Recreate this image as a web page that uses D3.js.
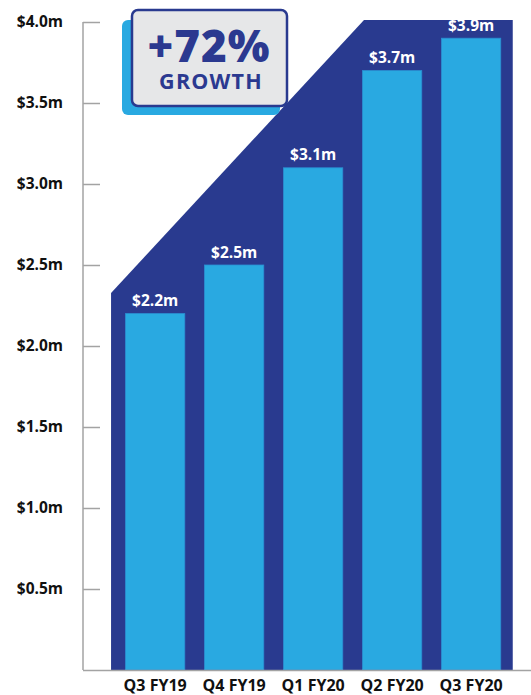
<!DOCTYPE html>
<html>
<head>
<meta charset="utf-8">
<script src="https://cdn.jsdelivr.net/npm/d3@7"></script>
<style>
  html, body { margin: 0; padding: 0; background: #fff; }
  svg { display: block; font-family: "Open Sans", "Noto Sans", sans-serif; }
</style>
</head>
<body>
<svg id="chart" width="531" height="695"></svg>
<script>
// Quarterly revenue, in $ millions
const quarters = ["Q3 FY19", "Q4 FY19", "Q1 FY20", "Q2 FY20", "Q3 FY20"];
const revenue = [2.2, 2.5, 3.1, 3.7, 3.9];
const valueLabels = ["$2.2m", "$2.5m", "$3.1m", "$3.7m", "$3.9m"];
const yTicks = [0.5, 1.0, 1.5, 2.0, 2.5, 3.0, 3.5, 4.0];
const yTickLabels = ["$0.5m", "$1.0m", "$1.5m", "$2.0m", "$2.5m", "$3.0m", "$3.5m", "$4.0m"];
const badgeHeadline = "+72%";
const badgeCaption = "GROWTH";

const NAVY = "#293a8f";
const SKY = "#29a9e1";
const AXIS = "#a3a3a3";

const svg = d3.select("#chart");

const axisX = 83;
const y = d3.scaleLinear().domain([0, 4]).range([670, 22]);
const x = d3.scaleBand()
  .domain(quarters)
  .range([113.7, 512.6])
  .paddingInner(0.25)
  .paddingOuter(0.15);

// Navy backdrop behind the bars, with a rising diagonal edge
const left = x(quarters[0]) - 14.5;
const right = x(quarters[quarters.length - 1]) + x.bandwidth() + 12;
const backdrop = [
  [left, y(0)],
  [left, 293],
  [364, y(4) - 2],
  [right, y(4) - 2],
  [right, y(0)]
];
svg.append("path")
  .attr("d", d3.line()(backdrop) + "Z")
  .attr("fill", NAVY);

// Bars
svg.append("g").selectAll("rect")
  .data(revenue)
  .join("rect")
  .attr("x", (d, i) => x(quarters[i]))
  .attr("y", d => y(d))
  .attr("width", x.bandwidth())
  .attr("height", d => y(0) - y(d))
  .attr("fill", SKY)
  .attr("stroke", "#2b8fd2")
  .attr("stroke-width", 0.8);

// Value labels above bars
svg.append("g").selectAll("text")
  .data(revenue)
  .join("text")
  .attr("x", (d, i) => x(quarters[i]) + x.bandwidth() / 2)
  .attr("y", d => y(d) - 7.5)
  .attr("text-anchor", "middle")
  .attr("fill", "#fff")
  .attr("font-size", 15.5)
  .attr("font-weight", 700)
  .text((d, i) => valueLabels[i]);

// Y axis
const yAxis = d3.axisLeft(y)
  .tickValues(yTicks)
  .tickSize(-17)
  .tickPadding(20)
  .tickFormat((d, i) => yTickLabels[i]);
const gy = svg.append("g")
  .attr("transform", `translate(${axisX},0)`)
  .call(yAxis);
gy.select(".domain").remove();
gy.selectAll(".tick line").attr("stroke", AXIS).attr("stroke-width", 1.5);
gy.selectAll(".tick text")
  .attr("fill", "#111")
  .attr("font-size", 15.5)
  .attr("font-weight", 700)
  .attr("font-family", "'Open Sans', sans-serif");

// Vertical axis line and baseline
svg.append("line")
  .attr("x1", axisX).attr("x2", axisX)
  .attr("y1", y(4)).attr("y2", y(0))
  .attr("stroke", AXIS).attr("stroke-width", 1.5);
svg.append("line")
  .attr("x1", axisX).attr("x2", 531)
  .attr("y1", y(0) + 0.5).attr("y2", y(0) + 0.5)
  .attr("stroke", AXIS).attr("stroke-width", 1.5);

// X axis labels
const xAxis = d3.axisBottom(x).tickSize(0).tickPadding(9.5);
const gx = svg.append("g")
  .attr("transform", `translate(0,${y(0)})`)
  .call(xAxis);
gx.select(".domain").remove();
gx.selectAll(".tick text")
  .attr("fill", "#111")
  .attr("font-size", 16)
  .attr("font-weight", 700)
  .attr("font-family", "'Open Sans', sans-serif");

// Growth badge
const badge = svg.append("g");
badge.append("rect")
  .attr("x", 122).attr("y", 20)
  .attr("width", 158).attr("height", 95)
  .attr("rx", 6)
  .attr("fill", SKY);
badge.append("rect")
  .attr("x", 132).attr("y", 10)
  .attr("width", 155).attr("height", 96)
  .attr("rx", 6)
  .attr("fill", "#e6e7e8")
  .attr("stroke", NAVY)
  .attr("stroke-width", 2.5);
badge.append("text")
  .attr("x", 209).attr("y", 62)
  .attr("text-anchor", "middle")
  .attr("fill", "#2b3990")
  .attr("font-size", 44)
  .attr("font-weight", 800)
  .attr("letter-spacing", 1)
  .text(badgeHeadline);
badge.append("text")
  .attr("x", 211).attr("y", 89)
  .attr("text-anchor", "middle")
  .attr("fill", "#2b3990")
  .attr("font-size", 21.5)
  .attr("font-weight", 700)
  .attr("letter-spacing", 1.2)
  .text(badgeCaption);
</script>
</body>
</html>
